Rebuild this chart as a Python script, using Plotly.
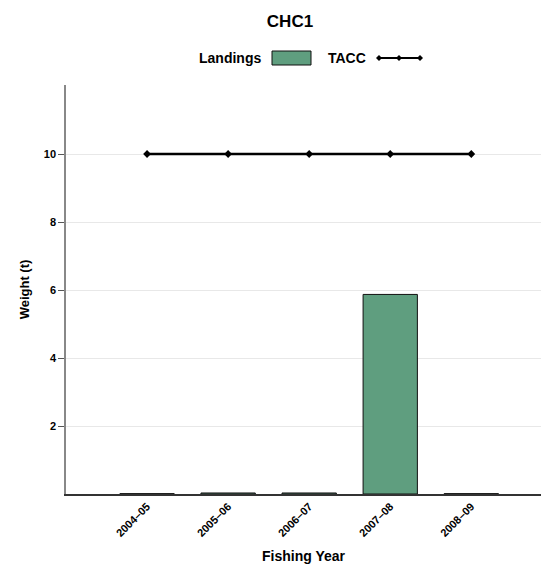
import plotly.graph_objects as go

years = ["2004–05", "2005–06", "2006–07", "2007–08", "2008–09"]
landings = [0.01, 0.03, 0.03, 5.87, 0.01]
tacc = [10, 10, 10, 10, 10]
y_ticks = [2, 4, 6, 8, 10]

FONT = "Liberation Sans, Arial, sans-serif"
GREEN = "#5f9e7f"

fig = go.Figure()
fig.add_trace(go.Bar(x=list(range(len(years))), y=landings, name="Landings",
                     marker=dict(color=GREEN, line=dict(color="#111111", width=1)),
                     width=0.67, showlegend=False))
fig.add_trace(go.Scatter(x=list(range(len(years))), y=tacc, name="TACC",
                         mode="lines+markers",
                         line=dict(color="black", width=2.5),
                         marker=dict(symbol="diamond", size=6, color="black"),
                         showlegend=False))

ann = dict(xref="paper", yref="paper", showarrow=False,
           font=dict(family=FONT, size=14, color="black"))
W, L = 475, 66
def px(x):
    return (x - L) / W
def py(y):
    return (494 - y) / 409
fig.add_annotation(text="<b>Landings</b>", x=px(263), y=py(58), xanchor="right", yanchor="middle", **ann)
fig.add_annotation(text="<b>TACC</b>", x=px(368), y=py(58), xanchor="right", yanchor="middle", **ann)
fig.add_shape(type="rect", xref="paper", yref="paper", x0=px(272), x1=px(311), y0=py(65), y1=py(51),
              fillcolor=GREEN, line=dict(color="#111111", width=1))
fig.add_shape(type="line", xref="paper", yref="paper", x0=px(377), x1=px(421), y0=py(58), y1=py(58),
              line=dict(color="black", width=2))
for xx in (379, 399, 420):
    fig.add_shape(type="path", xref="paper", yref="paper",
                  path=f"M {px(xx-3)} {py(58)} L {px(xx)} {py(55)} L {px(xx+3)} {py(58)} L {px(xx)} {py(61)} Z",
                  fillcolor="black", line=dict(color="black", width=0))

fig.update_layout(
    width=541, height=564,
    margin=dict(l=66, r=0, t=85, b=70),
    plot_bgcolor="white", paper_bgcolor="white",
    font=dict(family=FONT, size=11, color="black"),
    title=dict(text="<b>CHC1</b>", x=290 / 541, xref="container", xanchor="center",
               y=1 - 21 / 564, yanchor="middle",
               font=dict(family=FONT, size=17, color="black")),
    showlegend=False,
)
fig.update_xaxes(range=[-1, 4.86], tickmode="array", tickvals=list(range(len(years))),
                 ticktext=[f"<b>{y}</b>" for y in years], tickangle=-45,
                 tickfont=dict(size=11), showline=True, linecolor="#333333", linewidth=1.5,
                 showgrid=False, ticks="", zeroline=False, automargin=False,
                 title=dict(text="<b>Fishing Year</b>", font=dict(size=14), standoff=19))
fig.update_yaxes(range=[0, 12.03], tickmode="array", tickvals=y_ticks,
                 ticktext=[f"<b>{v}</b>" for v in y_ticks], tickfont=dict(size=11),
                 showline=True, linecolor="#888888", linewidth=1.5,
                 showgrid=True, gridcolor="#e8e8e8", gridwidth=1,
                 ticks="outside", ticklen=6, tickcolor="#555555", zeroline=False, automargin=False,
                 title=dict(text="<b>Weight (t)</b>", font=dict(size=13), standoff=11))

fig.write_html("out.html", config={"displayModeBar": False},
               post_script="document.body.style.margin='0';")
